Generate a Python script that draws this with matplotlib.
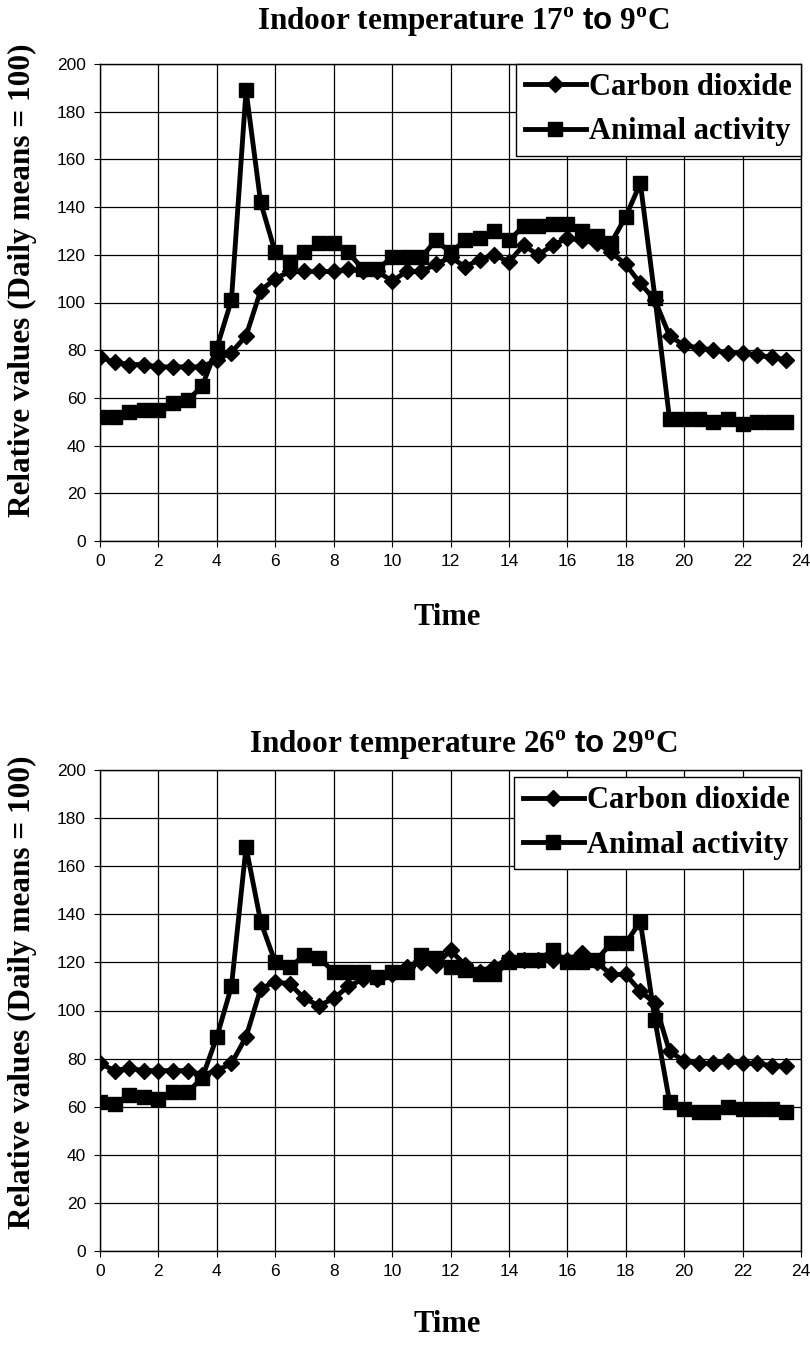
import matplotlib

matplotlib.use("Agg")
import matplotlib.pyplot as plt

# hours of the day, one reading every half hour
hours = [0, 0.5, 1, 1.5, 2, 2.5, 3, 3.5, 4, 4.5, 5, 5.5, 6, 6.5, 7, 7.5,
         8, 8.5, 9, 9.5, 10, 10.5, 11, 11.5, 12, 12.5, 13, 13.5, 14, 14.5, 15, 15.5,
         16, 16.5, 17, 17.5, 18, 18.5, 19, 19.5, 20, 20.5, 21, 21.5, 22, 22.5, 23, 23.5]

# indoor 17 to 9 C
cold_co2 = [77, 75, 74, 74, 73, 73, 73, 73, 76, 79, 86, 105, 110, 113, 113, 113,
            113, 114, 113, 113, 109, 113, 113, 116, 119, 115, 118, 120, 117, 124, 120, 124,
            127, 126, 125, 121, 116, 108, 101, 86, 82, 81, 80, 79, 79, 78, 77, 76]
cold_activity = [52, 52, 54, 55, 55, 58, 59, 65, 81, 101, 189, 142, 121, 117, 121, 125,
                 125, 121, 114, 114, 119, 119, 119, 126, 121, 126, 127, 130, 126, 132, 132, 133,
                 133, 130, 128, 125, 136, 150, 102, 51, 51, 51, 50, 51, 49, 50, 50, 50]

# indoor 26 to 29 C
warm_co2 = [78, 75, 76, 75, 75, 75, 75, 73, 75, 78, 89, 109, 112, 111, 105, 102,
            105, 110, 113, 113, 115, 118, 120, 119, 125, 119, 116, 118, 122, 121, 121, 121,
            121, 124, 120, 115, 115, 108, 103, 83, 79, 78, 78, 79, 78, 78, 77, 77]
warm_activity = [62, 61, 65, 64, 63, 66, 66, 72, 89, 110, 168, 137, 120, 118, 123, 122,
                 116, 116, 116, 114, 116, 116, 123, 122, 118, 117, 115, 115, 120, 121, 121, 125,
                 120, 120, 121, 128, 128, 137, 96, 62, 59, 58, 58, 60, 59, 59, 59, 58]

x_ticks = [0, 2, 4, 6, 8, 10, 12, 14, 16, 18, 20, 22, 24]
y_ticks = [0, 20, 40, 60, 80, 100, 120, 140, 160, 180, 200]

plt.rcParams["font.family"] = ["Liberation Serif", "DejaVu Serif"]
plt.rcParams["mathtext.fontset"] = "custom"
plt.rcParams["mathtext.rm"] = "Liberation Serif:bold"
plt.rcParams["mathtext.bf"] = "Liberation Serif:bold"
plt.rcParams["mathtext.sf"] = "Liberation Sans:bold"

W, H = 810, 1345


def panel(ax, co2, activity, anchor):
    ax.plot(hours, co2, color="black", lw=3.5, marker="D", ms=8.5,
            label="Carbon dioxide", zorder=3)
    ax.plot(hours, activity, color="black", lw=3.5, marker="s", ms=9.5,
            label="Animal activity", zorder=3)
    ax.set_xlim(0, 24)
    ax.set_ylim(0, 200)
    ax.set_xticks(x_ticks)
    ax.set_yticks(y_ticks)
    ax.grid(True, color="black", lw=0.9)
    ax.set_axisbelow(True)
    ax.tick_params(direction="out", length=4, width=0.8, labelsize=12.5)
    ax.tick_params(axis="y", pad=6)
    ax.tick_params(axis="x", pad=5)
    for lab in ax.get_xticklabels() + ax.get_yticklabels():
        lab.set_fontfamily("Liberation Sans")
    for sp in ax.spines.values():
        sp.set_color("black")
        sp.set_linewidth(1.0)
    leg = ax.legend(loc="upper right", bbox_to_anchor=anchor, borderaxespad=0,
                    fancybox=False, framealpha=1, edgecolor="black",
                    prop={"family": "Liberation Serif", "weight": "bold", "size": 22},
                    handlelength=2.0, handletextpad=0.1, labelspacing=0.5,
                    borderpad=0.3)
    leg.get_frame().set_linewidth(1.0)


fig = plt.figure(figsize=(W / 100, H / 100), dpi=100)
ax1 = fig.add_axes([100 / W, 1 - 541 / H, 701 / W, 477 / H])
ax2 = fig.add_axes([100 / W, 1 - 1251 / H, 701 / W, 481 / H])

panel(ax1, cold_co2, cold_activity, (1.0, 1.0))
panel(ax2, warm_co2, warm_activity, (0.997, 0.985))

fig.text(463 / W, 1 - 22 / H,
         r"Indoor temperature 17$^{\mathrm{o}}$ $\mathsf{to}$ 9$^{\mathrm{o}}$C",
         ha="center", va="center", fontsize=22.5, fontweight="bold")
fig.text(463 / W, 1 - 745 / H,
         r"Indoor temperature 26$^{\mathrm{o}}$ $\mathsf{to}$ 29$^{\mathrm{o}}$C",
         ha="center", va="center", fontsize=22.5, fontweight="bold")

for yc in (280, 992):
    fig.text(22 / W, 1 - yc / H, "Relative values (Daily means = 100)",
             rotation=90, ha="center", va="center", fontsize=22.5, fontweight="bold")
for yc in (617, 1325):
    fig.text(447 / W, 1 - yc / H, "Time", ha="center", va="center",
             fontsize=22, fontweight="bold")

fig.savefig("out.png", dpi=100, facecolor="white")
